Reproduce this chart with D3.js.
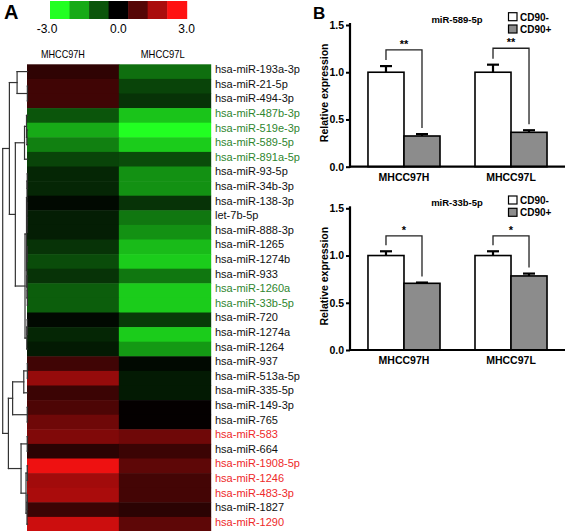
<!DOCTYPE html>
<html><head><meta charset="utf-8">
<script src="https://cdn.jsdelivr.net/npm/d3@7"></script>
<style>
html,body{margin:0;padding:0;background:#fff;}
svg{display:block;font-family:"Liberation Sans",Arial,sans-serif;}
</style></head>
<body>
<svg id="chart" width="567" height="531"></svg>
<script>
// ---------- Panel A data ----------
const rowLabels = ["hsa-miR-193a-3p","hsa-miR-21-5p","hsa-miR-494-3p","hsa-miR-487b-3p","hsa-miR-519e-3p","hsa-miR-589-5p","hsa-miR-891a-5p","hsa-miR-93-5p","hsa-miR-34b-3p","hsa-miR-138-3p","let-7b-5p","hsa-miR-888-3p","hsa-miR-1265","hsa-miR-1274b","hsa-miR-933","hsa-miR-1260a","hsa-miR-33b-5p","hsa-miR-720","hsa-miR-1274a","hsa-miR-1264","hsa-miR-937","hsa-miR-513a-5p","hsa-miR-335-5p","hsa-miR-149-3p","hsa-miR-765","hsa-miR-583","hsa-miR-664","hsa-miR-1908-5p","hsa-miR-1246","hsa-miR-483-3p","hsa-miR-1827","hsa-miR-1290"];
const columns = ["MHCC97H","MHCC97L"];
const valuesH = [0.55,0.75,0.75,-1.0,-2.0,-1.5,-0.8,-0.45,-0.45,-0.1,-0.35,-0.35,-0.6,-0.9,-0.6,-1.1,-1.1,-0.1,-0.45,-0.3,0.75,1.75,0.7,0.9,1.3,1.5,0.5,2.8,1.9,2.0,0.7,2.4];
const valuesL = [-1.3,-0.8,-0.6,-2.3,-3.0,-2.4,-0.9,-1.7,-1.7,-0.6,-1.4,-1.7,-2.2,-2.4,-1.4,-2.4,-2.4,-0.7,-2.4,-1.8,-0.1,-0.3,-0.3,0.05,0.05,1.3,0.7,1.1,0.8,0.8,0.5,1.1];
const greenLabels = ["hsa-miR-487b-3p","hsa-miR-519e-3p","hsa-miR-589-5p","hsa-miR-891a-5p","hsa-miR-1260a","hsa-miR-33b-5p"];
const redLabels = ["hsa-miR-583","hsa-miR-1908-5p","hsa-miR-1246","hsa-miR-483-3p","hsa-miR-1290"];
const legendValues = [-3,-2,-1,0,1,2,3];
const legendTicks = [-3,0,3];
// dendrogram: leaves are row indices, h = merge height
const dendro = {h:10, c:[
  {h:7.3, c:[
    {h:4.2, c:[0,{h:0.05,c:[1,2]}]},
    {h:4.9, c:[
      {h:1.2, c:[{h:0.4,c:[3,{h:0.25,c:[4,5]}]},6]},
      {h:1.0, c:[
        {h:0.4, c:[{h:0.2,c:[{h:0.1,c:[7,8]},{h:0.15,c:[9,{h:0.1,c:[10,11]}]}]},{h:0.3,c:[{h:0.1,c:[12,13]},{h:0.2,c:[14,{h:0.05,c:[15,16]}]}]}]},
        {h:0.3, c:[{h:0.1,c:[17,18]},19]}
      ]}
    ]}
  ]},
  {h:7.7, c:[
    {h:6.0, c:[{h:1.5,c:[{h:0.05,c:[20,21]},22]},{h:0.1,c:[23,24]}]},
    {h:2.6, c:[{h:0.1,c:[25,26]},{h:0.6,c:[{h:0.1,c:[27,28]},{h:0.2,c:[{h:0.1,c:[29,30]},31]}]}]}
  ]}
]};

// ---------- Panel B data ----------
const groups = ["CD90-","CD90+"];
const cellLines = ["MHCC97H","MHCC97L"];
const yTicks = [0,0.5,1.0,1.5];
const panels = [
  {title:"miR-589-5p", mean:{"MHCC97H":[1.0,0.325],"MHCC97L":[1.0,0.364]}, se:{"MHCC97H":[0.065,0.02],"MHCC97L":[0.08,0.022]},
   sig:[{cat:"MHCC97H",level:1.236,label:"**"},{cat:"MHCC97L",level:1.254,label:"**"}]},
  {title:"miR-33b-5p", mean:{"MHCC97H":[1.0,0.706],"MHCC97L":[1.0,0.784]}, se:{"MHCC97H":[0.045,0.008],"MHCC97L":[0.045,0.025]},
   sig:[{cat:"MHCC97H",level:1.208,label:"*"},{cat:"MHCC97L",level:1.208,label:"*"}]}
];

const svg = d3.select("#chart");
const FONT = '"Liberation Sans",Arial,sans-serif';

// ================= Panel A =================
const color = d3.scaleLinear().domain([-3,0,3]).range(["#22ff22","#000000","#ff1212"]);
const xCol = d3.scaleBand().domain(columns).range([27,210.7]);
const yRow = d3.scaleBand().domain(rowLabels).range([64.3,531.5]);

svg.append("text").attr("x",4).attr("y",18.5).attr("font-size",20).attr("font-weight","bold").text("A");

// color legend
const xLeg = d3.scaleBand().domain(legendValues).range([50,186.7]);
svg.append("g").selectAll("rect").data(legendValues).join("rect")
  .attr("x",d=>xLeg(d)).attr("y",1).attr("width",xLeg.bandwidth()+0.5).attr("height",18)
  .attr("fill",d=>color(d));
const xLegPos = d3.scaleLinear().domain([-3,3]).range([50,186.7]);
svg.append("g").selectAll("text").data(legendTicks).join("text")
  .attr("x",d=>xLegPos(d)-(d<0?3:0)).attr("y",33).attr("text-anchor","middle").attr("font-size",12)
  .text(d=>d.toFixed(1));

// column headers
svg.append("g").selectAll("text").data(columns).join("text")
  .attr("x",(d,i)=>xCol(d)+xCol.bandwidth()/2 + (i===0?-10:-2)).attr("y",57.5).attr("text-anchor","middle")
  .attr("font-size",11.5).attr("textLength",44).attr("lengthAdjust","spacingAndGlyphs").text(d=>d);

// cells
const cells = [];
rowLabels.forEach((r,i)=>{cells.push({row:r,col:columns[0],v:valuesH[i]});cells.push({row:r,col:columns[1],v:valuesL[i]});});
svg.append("g").selectAll("rect").data(cells).join("rect")
  .attr("x",d=>xCol(d.col)).attr("y",d=>yRow(d.row)).attr("width",xCol.bandwidth()+0.5).attr("height",yRow.bandwidth()+0.5)
  .attr("fill",d=>color(d.v));

// row labels
svg.append("g").selectAll("text").data(rowLabels).join("text")
  .attr("x",215).attr("y",d=>yRow(d)+yRow.bandwidth()/2+1.5).attr("font-size",11)
  .attr("fill",d=>greenLabels.includes(d)?"#2f862f":(redLabels.includes(d)?"#ee2a2a":"#111"))
  .text(d=>d);

// dendrogram
const root = d3.hierarchy(dendro, d => (typeof d === "number") ? null : d.c);
const xDen = d3.scaleLinear().domain([0,10]).range([27.5,2.7]);
root.eachAfter(n=>{
  if (!n.children){ n.py = yRow(rowLabels[n.data]) + yRow.bandwidth()/2; n.px = xDen(0); }
  else { n.py = d3.mean(n.children, c=>c.py); n.px = xDen(n.data.h); }
});
const denLines = [];
root.each(n=>{
  if (n.children){
    const ys = n.children.map(c=>c.py);
    denLines.push({x1:n.px,x2:n.px,y1:d3.min(ys),y2:d3.max(ys)});
    n.children.forEach(c=>denLines.push({x1:n.px,x2:c.px,y1:c.py,y2:c.py}));
  }
});
svg.append("g").selectAll("line").data(denLines).join("line")
  .attr("x1",d=>d.x1).attr("x2",d=>d.x2).attr("y1",d=>d.y1).attr("y2",d=>d.y2)
  .attr("stroke","#333").attr("stroke-width",1.2).attr("stroke-linecap","square");

// ================= Panel B =================
svg.append("text").attr("x",313).attr("y",18.5).attr("font-size",17).attr("font-weight","bold").text("B");

const xCat = d3.scaleBand().domain(cellLines).range([350,565]).paddingInner(0.327).paddingOuter(0.168);
const xGrp = d3.scaleBand().domain(groups).range([0,xCat.bandwidth()]);
const fills = {"CD90-":"#ffffff","CD90+":"#8c8c8c"};

panels.forEach((p,pi)=>{
  const off = pi*183.3;
  const y = d3.scaleLinear().domain([0,1.5]).range([166.7+off,25+off]);
  const g = svg.append("g");

  // bars
  const bars = [];
  cellLines.forEach(c=>groups.forEach((gr,gi)=>bars.push({c,gr,v:p.mean[c][gi],se:p.se[c][gi]})));
  g.selectAll("rect.bar").data(bars).join("rect").attr("class","bar")
    .attr("x",d=>xCat(d.c)+xGrp(d.gr)).attr("width",xGrp.bandwidth())
    .attr("y",d=>y(d.v)).attr("height",d=>y(0)-y(d.v))
    .attr("fill",d=>fills[d.gr]).attr("stroke","#000").attr("stroke-width",1.6);
  // error bars
  const eb = g.append("g").attr("stroke","#000").attr("stroke-width",2.2);
  eb.selectAll("line.v").data(bars).join("line").attr("class","v")
    .attr("x1",d=>xCat(d.c)+xGrp(d.gr)+xGrp.bandwidth()/2).attr("x2",d=>xCat(d.c)+xGrp(d.gr)+xGrp.bandwidth()/2)
    .attr("y1",d=>y(d.v)).attr("y2",d=>y(d.v+d.se));
  eb.selectAll("line.c").data(bars).join("line").attr("class","c")
    .attr("x1",d=>xCat(d.c)+xGrp(d.gr)+xGrp.bandwidth()/2-6).attr("x2",d=>xCat(d.c)+xGrp(d.gr)+xGrp.bandwidth()/2+6)
    .attr("y1",d=>y(d.v+d.se)).attr("y2",d=>y(d.v+d.se));

  // significance brackets
  p.sig.forEach(s=>{
    const xl = xCat(s.cat)+xGrp("CD90-")+xGrp.bandwidth()/2;
    const xr = xCat(s.cat)+xGrp("CD90+")+xGrp.bandwidth()/2;
    const yl = y(p.mean[s.cat][0]+p.se[s.cat][0])-6;
    const yr = y(p.mean[s.cat][1]+p.se[s.cat][1])-6;
    const yb = y(s.level);
    g.append("path").attr("d",`M${xl},${yl}V${yb}H${xr}V${yr}`).attr("fill","none").attr("stroke","#222").attr("stroke-width",1.3);
    g.append("text").attr("x",(xl+xr)/2).attr("y",yb-2).attr("text-anchor","middle").attr("font-size",11).attr("font-weight","bold").text(s.label);
  });

  // axes
  const ya = g.append("g").attr("transform","translate(350,0)")
    .call(d3.axisLeft(y).tickValues(yTicks).tickFormat(d3.format(".1f")).tickSize(4).tickPadding(2));
  ya.select(".domain").attr("stroke-width",2.2).attr("d",`M0,${y(0)+1}V${y(1.5)-2}`);
  ya.selectAll(".tick line").attr("stroke-width",2);
  ya.selectAll("text").attr("font-size",10.5).attr("font-weight","bold").attr("font-family",FONT).attr("fill","#000");

  g.append("line").attr("x1",349).attr("x2",565).attr("y1",y(0)).attr("y2",y(0)).attr("stroke","#000").attr("stroke-width",2.2);
  g.selectAll("text.cat").data(cellLines).join("text").attr("class","cat")
    .attr("x",d=>xCat(d)+xCat.bandwidth()/2).attr("y",y(0)+14).attr("text-anchor","middle")
    .attr("font-size",10.5).attr("font-weight","bold").text(d=>d);

  // y label
  g.append("text").attr("transform",`translate(328,${(y(0)+y(1.5))/2 - 3}) rotate(-90)`).attr("text-anchor","middle")
    .attr("font-size",10.5).attr("font-weight","bold").text("Relative expression");

  // title
  g.append("text").attr("x",457).attr("y",23+off).attr("text-anchor","middle").attr("font-size",9.5).attr("font-weight","bold").text(p.title);

  // legend
  const lg = g.append("g");
  groups.forEach((gr,gi)=>{
    lg.append("rect").attr("x",508.5).attr("y",12.7+off+gi*12.3).attr("width",8.5).attr("height",8)
      .attr("fill",fills[gr]).attr("stroke","#000").attr("stroke-width",1.2);
    lg.append("text").attr("x",520).attr("y",20.5+off+gi*12.3).attr("font-size",10).attr("font-weight","bold").text(gr);
  });
});
</script>
</body></html>
